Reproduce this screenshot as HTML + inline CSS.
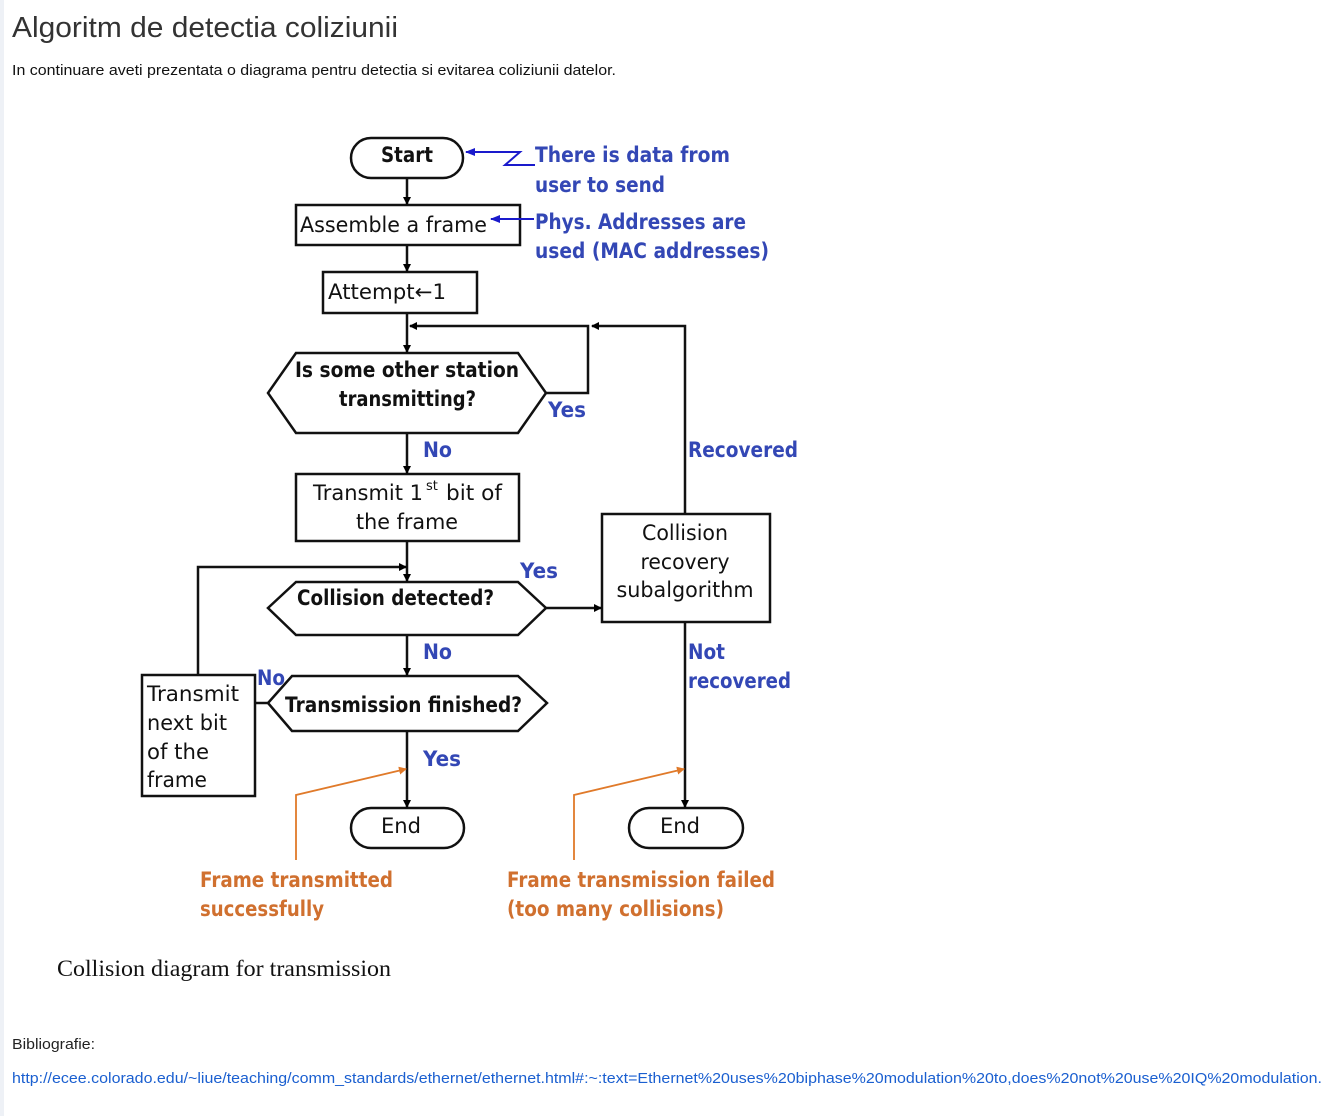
<!DOCTYPE html>
<html><head><meta charset="utf-8"><style>
html,body{margin:0;padding:0;background:#fff;}
body{width:1341px;height:1116px;overflow:hidden;position:relative;}
.strip{position:absolute;left:0;top:0;width:4px;height:1116px;background:#eef1f6;}
svg{position:absolute;left:0;top:0;}
.lab{font-family:"DejaVu Sans",Verdana,sans-serif;}
</style></head><body>
<div class="strip"></div>
<svg width="1341" height="1116" viewBox="0 0 1341 1116" xmlns="http://www.w3.org/2000/svg">
<defs>
<marker id="ab" markerWidth="8" markerHeight="8" refX="7" refY="4" orient="auto" markerUnits="userSpaceOnUse"><path d="M0,0 L8,4 L0,8 z" fill="#000"/></marker>
<marker id="abl" markerWidth="10" markerHeight="8" refX="9" refY="4" orient="auto" markerUnits="userSpaceOnUse"><path d="M0,0 L10,4 L0,8 z" fill="#1a1acc"/></marker>
<marker id="ao" markerWidth="8" markerHeight="8" refX="7" refY="4" orient="auto" markerUnits="userSpaceOnUse"><path d="M0,0 L8,4 L0,8 z" fill="#e07a2a"/></marker>
</defs>
<text x="12" y="37" font-family="Liberation Sans,sans-serif" font-size="29" fill="#333" textLength="386" lengthAdjust="spacingAndGlyphs">Algoritm de detectia coliziunii</text>
<text x="12" y="75" font-family="Liberation Sans,sans-serif" font-size="15" fill="#111" textLength="604" lengthAdjust="spacingAndGlyphs">In continuare aveti prezentata o diagrama pentru detectia si evitarea coliziunii datelor.</text>

<g stroke="#111" stroke-width="2.5" fill="#fff">
<rect x="351" y="138" width="112" height="40" rx="20"/>
<rect x="296" y="205" width="224" height="40"/>
<rect x="323" y="272" width="154" height="41"/>
<polygon points="296,353 518,353 546,393 518,433 296,433 268,393"/>
<rect x="296" y="474" width="223" height="67"/>
<polygon points="296,582 518,582 546,608 518,635 296,635 268,608"/>
<rect x="602" y="514" width="168" height="108"/>
<polygon points="292,676 518,676 547,703 518,731 292,731 268,703"/>
<rect x="142" y="675" width="113" height="121"/>
<rect x="351" y="808" width="113" height="40" rx="20"/>
<rect x="629" y="808" width="114" height="40" rx="20"/>
</g>
<g stroke="#111" stroke-width="2.5" fill="none">
<line x1="407" y1="178" x2="407" y2="204" marker-end="url(#ab)"/>
<line x1="407" y1="245" x2="407" y2="271" marker-end="url(#ab)"/>
<line x1="407" y1="313" x2="407" y2="352" marker-end="url(#ab)"/>
<polyline points="546,393 588,393 588,326 410,326" marker-end="url(#ab)"/>
<polyline points="685,513 685,326 592,326" marker-end="url(#ab)"/>
<line x1="407" y1="433" x2="407" y2="473" marker-end="url(#ab)"/>
<line x1="407" y1="541" x2="407" y2="581" marker-end="url(#ab)"/>
<polyline points="198,675 198,567 406,567" marker-end="url(#ab)"/>
<line x1="546" y1="608" x2="601" y2="608" marker-end="url(#ab)"/>
<line x1="407" y1="635" x2="407" y2="675" marker-end="url(#ab)"/>
<line x1="255" y1="703" x2="268" y2="703"/>
<line x1="407" y1="731" x2="407" y2="807" marker-end="url(#ab)"/>
<line x1="685" y1="622" x2="685" y2="807" marker-end="url(#ab)"/>
</g>
<g stroke="#1a1acc" stroke-width="2" fill="none">
<polyline points="535,165 505,165 520,152 466,152" marker-end="url(#abl)"/>
<line x1="534" y1="219" x2="491" y2="219" marker-end="url(#abl)"/>
</g>
<g stroke="#e07a2a" stroke-width="1.8" fill="none">
<polyline points="296,860 296,795 406,769" marker-end="url(#ao)"/>
<polyline points="574,860 574,795 684,769" marker-end="url(#ao)"/>
</g>

<g class="lab" fill="#111" font-size="21">
<text x="407" y="162" text-anchor="middle" font-weight="bold" textLength="52" lengthAdjust="spacingAndGlyphs">Start</text>
<text x="300" y="232" textLength="187" lengthAdjust="spacingAndGlyphs">Assemble a frame</text>
<text x="328" y="299" textLength="118" lengthAdjust="spacingAndGlyphs">Attempt←1</text>
<text x="295" y="377" font-weight="bold" textLength="224" lengthAdjust="spacingAndGlyphs">Is some other station</text>
<text x="339" y="406" font-weight="bold" textLength="137" lengthAdjust="spacingAndGlyphs">transmitting?</text>
<text x="313" y="500" textLength="110" lengthAdjust="spacingAndGlyphs">Transmit 1</text>
<text x="426" y="490" font-size="13">st</text>
<text x="446" y="500" textLength="56" lengthAdjust="spacingAndGlyphs">bit of</text>
<text x="356" y="529" textLength="102" lengthAdjust="spacingAndGlyphs">the frame</text>
<text x="297" y="605" font-weight="bold" textLength="197" lengthAdjust="spacingAndGlyphs">Collision detected?</text>
<text x="685" y="540" text-anchor="middle" textLength="86" lengthAdjust="spacingAndGlyphs">Collision</text>
<text x="685" y="569" text-anchor="middle" textLength="89" lengthAdjust="spacingAndGlyphs">recovery</text>
<text x="685" y="597" text-anchor="middle" textLength="137" lengthAdjust="spacingAndGlyphs">subalgorithm</text>
<text x="285" y="712" font-weight="bold" textLength="237" lengthAdjust="spacingAndGlyphs">Transmission finished?</text>
<text x="147" y="701" textLength="92" lengthAdjust="spacingAndGlyphs">Transmit</text>
<text x="147" y="730" textLength="80" lengthAdjust="spacingAndGlyphs">next bit</text>
<text x="147" y="759" textLength="62" lengthAdjust="spacingAndGlyphs">of the</text>
<text x="147" y="787" textLength="60" lengthAdjust="spacingAndGlyphs">frame</text>
<text x="401" y="833" text-anchor="middle" textLength="40" lengthAdjust="spacingAndGlyphs">End</text>
<text x="680" y="833" text-anchor="middle" textLength="40" lengthAdjust="spacingAndGlyphs">End</text>
</g>
<g class="lab" fill="#3347b5" font-size="21" font-weight="bold">
<text x="535" y="162" textLength="195" lengthAdjust="spacingAndGlyphs">There is data from</text>
<text x="535" y="192" textLength="130" lengthAdjust="spacingAndGlyphs">user to send</text>
<text x="535" y="229" textLength="211" lengthAdjust="spacingAndGlyphs">Phys. Addresses are</text>
<text x="535" y="258" textLength="234" lengthAdjust="spacingAndGlyphs">used (MAC addresses)</text>
<text x="548" y="417" textLength="38" lengthAdjust="spacingAndGlyphs">Yes</text>
<text x="423" y="457" textLength="29" lengthAdjust="spacingAndGlyphs">No</text>
<text x="688" y="457" textLength="110" lengthAdjust="spacingAndGlyphs">Recovered</text>
<text x="520" y="578" textLength="38" lengthAdjust="spacingAndGlyphs">Yes</text>
<text x="423" y="659" textLength="29" lengthAdjust="spacingAndGlyphs">No</text>
<text x="688" y="659" textLength="37" lengthAdjust="spacingAndGlyphs">Not</text>
<text x="688" y="688" textLength="103" lengthAdjust="spacingAndGlyphs">recovered</text>
<text x="257" y="685" textLength="28" lengthAdjust="spacingAndGlyphs">No</text>
<text x="423" y="766" textLength="38" lengthAdjust="spacingAndGlyphs">Yes</text>
</g>
<g class="lab" fill="#d0702f" font-size="21" font-weight="bold">
<text x="200" y="887" textLength="193" lengthAdjust="spacingAndGlyphs">Frame transmitted</text>
<text x="200" y="916" textLength="124" lengthAdjust="spacingAndGlyphs">successfully</text>
<text x="507" y="887" textLength="268" lengthAdjust="spacingAndGlyphs">Frame transmission failed</text>
<text x="507" y="916" textLength="217" lengthAdjust="spacingAndGlyphs">(too many collisions)</text>
</g>
<text x="57" y="976" font-family="Liberation Serif,serif" font-size="23" fill="#111" textLength="334" lengthAdjust="spacingAndGlyphs">Collision diagram for transmission</text>
<text x="12" y="1049" font-family="Liberation Sans,sans-serif" font-size="15" fill="#222" textLength="83" lengthAdjust="spacingAndGlyphs">Bibliografie:</text>
<text x="12" y="1083" font-family="Liberation Sans,sans-serif" font-size="15" fill="#1a5fd0" textLength="1310" lengthAdjust="spacingAndGlyphs">http://ecee.colorado.edu/~liue/teaching/comm_standards/ethernet/ethernet.html#:~:text=Ethernet%20uses%20biphase%20modulation%20to,does%20not%20use%20IQ%20modulation.</text>
</svg>
</body></html>
